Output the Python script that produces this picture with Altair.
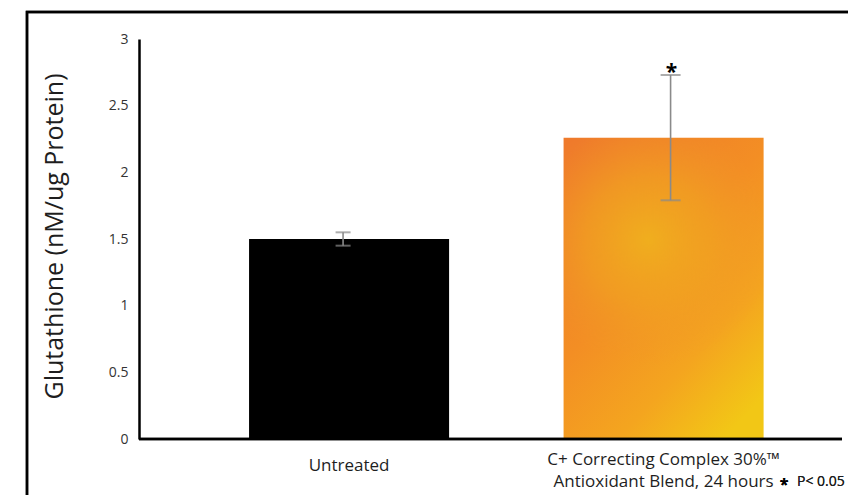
import altair as alt
import pandas as pd

# ---- data ----
categories = ["Untreated", "C+ Correcting Complex 30%™ Antioxidant Blend, 24 hours"]
label_lines = [["Untreated"], ["C+ Correcting Complex 30%™", "Antioxidant Blend, 24 hours"]]
means = [1.50, 2.26]
errors = [0.05, 0.47]
y_ticks = [0, 0.5, 1, 1.5, 2, 2.5, 3]
y_title = "Glutathione (nM/ug Protein)"
sig_marker = "*"
sig_note = "P< 0.05"

df = pd.DataFrame({
    "cat": categories,
    "mean": means,
    "lo": [m - e for m, e in zip(means, errors)],
    "hi": [m + e for m, e in zip(means, errors)],
    "lines": label_lines,
    "sig": ["", sig_marker],
})

FONT = "Open Sans"
TXT = "#1e1e1e"
x_scale = alt.Scale(domain=categories, paddingInner=0.364, paddingOuter=0.2996, align=0.584)
y_scale = alt.Scale(domain=[0, 3], nice=False)

base = alt.Chart(df)
X = alt.X("cat:N", scale=x_scale, axis=None)

bars_untreated = base.transform_filter(alt.datum.cat == categories[0]).mark_bar(color="black").encode(
    x=X,
    y=alt.Y("mean:Q", scale=y_scale,
            axis=alt.Axis(values=y_ticks, format="~g", grid=False, ticks=False, labelFont=FONT,
                          labelFontSize=14, labelColor="#333333", labelPadding=11,
                          domainColor="black", domainWidth=2.5,
                          title=y_title, titleFont=FONT, titleFontSize=25, titleFontWeight="normal",
                          titleColor=TXT, titleX=-85, titleY=197, titleAngle=270,
                          titleAlign="center", titleBaseline="middle")),
)

grad_base = alt.Gradient(
    gradient="linear", x1=0.1, y1=0, x2=0.8, y2=1,
    stops=[alt.GradientStop(color="#ef7a2b", offset=0),
           alt.GradientStop(color="#f38e24", offset=0.45),
           alt.GradientStop(color="#f4a51f", offset=0.75),
           alt.GradientStop(color="#f2c716", offset=1)],
)
grad_glow = alt.Gradient(
    gradient="radial", x1=0.45, y1=0.34, r1=0, x2=0.45, y2=0.34, r2=0.42,
    stops=[alt.GradientStop(color="rgba(240,174,30,1)", offset=0),
           alt.GradientStop(color="rgba(240,165,32,0.6)", offset=0.5),
           alt.GradientStop(color="rgba(240,150,40,0)", offset=1)],
)

orange = base.transform_filter(alt.datum.cat == categories[1])
bars_orange = orange.mark_bar(color=grad_base).encode(x=X, y=alt.Y("mean:Q", scale=y_scale))
bars_glow = orange.mark_bar(color=grad_glow).encode(x=X, y=alt.Y("mean:Q", scale=y_scale))

def errbar(idx, offset, cap):
    d = base.transform_filter(alt.datum.cat == categories[idx])
    rule = d.mark_rule(color="#8a8a8a", strokeWidth=1.6, xOffset=offset).encode(
        x=X, y=alt.Y("lo:Q", scale=y_scale), y2="hi:Q")
    cap_hi = d.mark_tick(color="#8a8a8a", size=cap, thickness=2, orient="horizontal", xOffset=offset).encode(
        x=X, y=alt.Y("hi:Q", scale=y_scale))
    cap_lo = d.mark_tick(color="#8a8a8a", size=cap, thickness=2, orient="horizontal", xOffset=offset).encode(
        x=X, y=alt.Y("lo:Q", scale=y_scale))
    return rule + cap_hi + cap_lo

err0 = errbar(0, -6, 15)
err1 = errbar(1, 7, 20)

star = base.mark_text(font=FONT, fontSize=21, fontWeight="bold", color="black", xOffset=8,
                      baseline="alphabetic", dy=4).encode(
    x=X, y=alt.Y("hi:Q", scale=y_scale), text="sig:N")

x_axis_line = base.mark_rule(color="black", strokeWidth=2.5).encode(
    x=alt.value(0), x2=alt.value(703), y=alt.value(400))

xlab0 = base.transform_filter(alt.datum.cat == categories[0]).mark_text(
    font=FONT, fontSize=17, color=TXT, baseline="middle").encode(
    x=X, y=alt.value(427), text="lines")
xlab1 = base.transform_filter(alt.datum.cat == categories[1]).mark_text(
    font=FONT, fontSize=17, color=TXT, baseline="middle", lineHeight=22).encode(
    x=X, y=alt.value(421), text="lines")

note_star = base.mark_text(font=FONT, fontSize=16, fontWeight="bold", color="black", align="center",
                           baseline="middle", dy=3).encode(
    x=alt.value(645), y=alt.value(443), text=alt.value(sig_marker))
note_txt = base.mark_text(font=FONT, fontSize=14, color=TXT, align="left", baseline="middle").encode(
    x=alt.value(658), y=alt.value(443), text=alt.value(sig_note))

frame = base.mark_rect(filled=False, stroke="black", strokeWidth=2.5).encode(
    x=alt.value(-112), x2=alt.value(800), y=alt.value(-27), y2=alt.value(560))

chart = alt.layer(
    frame, bars_untreated, bars_orange, bars_glow, err0, err1, star, x_axis_line, xlab0, xlab1,
    note_star, note_txt
).properties(
    width=703, height=400,
    background="white",
    autosize=alt.AutoSizeParams(type="none"),
    padding={"left": 131, "top": 31, "right": 6, "bottom": 56},
).configure_view(stroke=None)

chart.save("out.html", embed_options={"renderer": "svg", "actions": False})
